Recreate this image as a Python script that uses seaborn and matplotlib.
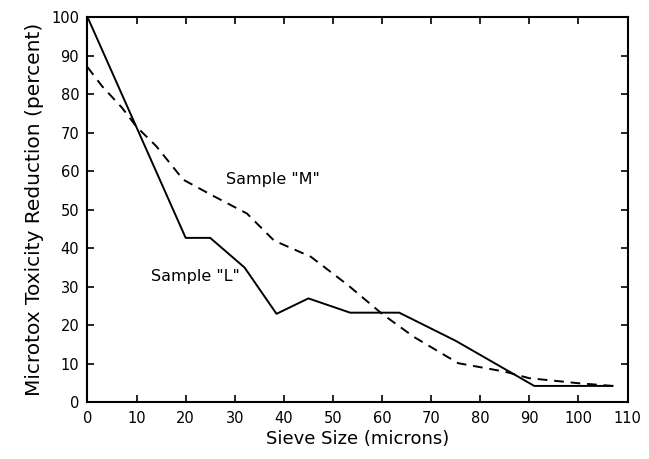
import matplotlib
matplotlib.use("Agg")
import matplotlib.pyplot as plt
import seaborn as sns
import pandas as pd

# Sample "L" (solid) and Sample "M" (dashed) toxicity reduction vs sieve size
sieve_L = [0, 20, 25, 32, 38.5, 45, 53.5, 63.5, 75, 91, 107]
toxred_L = [100, 42.7, 42.7, 35, 23, 27, 23.3, 23.3, 16, 4.3, 4.3]

sieve_M = [0, 3, 7, 10, 14, 19.5, 25, 32.5, 38, 45.5, 53, 60, 66.5, 75.5, 85, 90, 100, 107]
toxred_M = [87, 82, 76.5, 71.5, 66.5, 57.8, 54, 49, 42, 37.8, 30.5, 23, 17, 10.2, 8, 6.3, 5, 4.3]

x_ticks = list(range(0, 111, 10))
y_ticks = list(range(0, 101, 10))

sns.set_style("ticks")
plt.rcParams["font.family"] = ["DejaVu Sans"]
plt.rcParams["text.color"] = "black"
plt.rcParams["axes.labelcolor"] = "black"

df_L = pd.DataFrame({"sieve": sieve_L, "red": toxred_L})
df_M = pd.DataFrame({"sieve": sieve_M, "red": toxred_M})

fig = plt.figure(figsize=(6.49, 4.59), dpi=100)
ax = fig.add_axes([0.1348, 0.1231, 0.8321, 0.8399])

sns.lineplot(data=df_L, x="sieve", y="red", ax=ax, color="black",
             linewidth=1.4, sort=False, estimator=None)
sns.lineplot(data=df_M, x="sieve", y="red", ax=ax, color="black",
             linewidth=1.4, sort=False, estimator=None)
ax.lines[-1].set_dashes([5, 3.5])

ax.set_xlim(0, 110)
ax.set_ylim(0, 100)
ax.set_xticks(x_ticks)
ax.set_yticks(y_ticks)
ax.tick_params(direction="in", length=5, width=1.2, top=True, right=True,
               labelsize=10.5, colors="black", pad=6)
for s in ax.spines.values():
    s.set_linewidth(1.5)
    s.set_color("black")

ax.set_xlabel("Sieve Size (microns)", fontsize=13, labelpad=3)
ax.set_ylabel("Microtox Toxicity Reduction (percent)", fontsize=14.5, labelpad=5)

ax.text(37.8, 57.9, 'Sample "M"', fontsize=11.5, ha="center", va="center")
ax.text(21.9, 32.8, 'Sample "L"', fontsize=11.5, ha="center", va="center")

fig.savefig("out.png", dpi=100)
